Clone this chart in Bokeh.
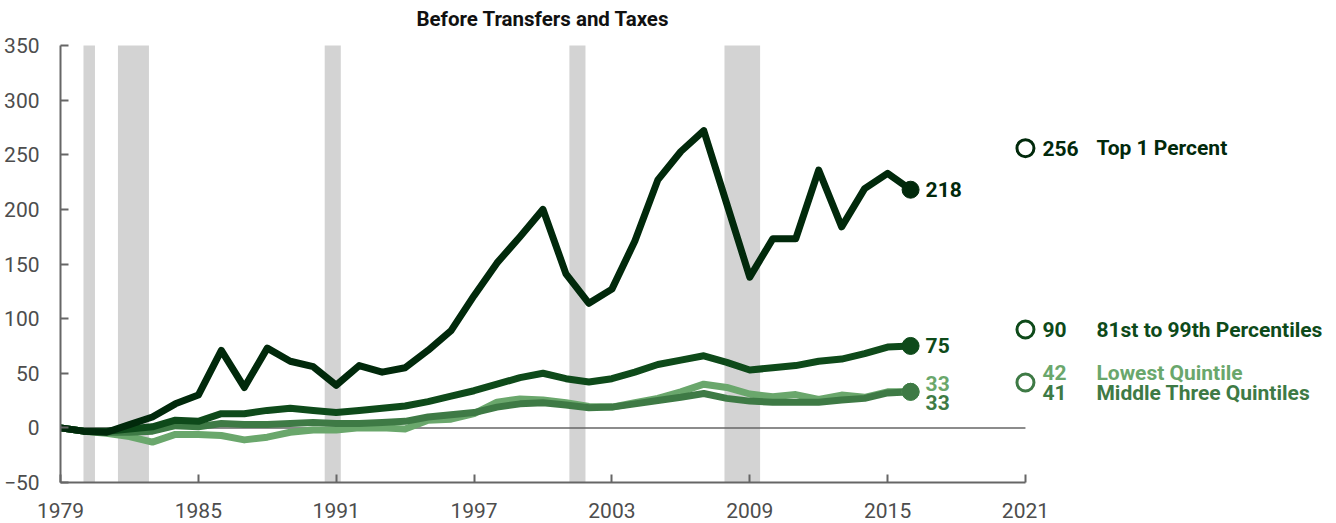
from bokeh.plotting import figure
from bokeh.models import Range1d, FixedTicker
from bokeh.core.properties import value
from bokeh.embed import file_html
from bokeh.resources import INLINE

years = list(range(1979, 2017))

top1 = [0, -3, -4, 3, 10, 22, 30, 71, 37, 73, 61, 56, 39, 57, 51, 55, 71, 89,
        121, 151, 175, 200, 141, 114, 127, 171, 227, 253, 272, 205, 138, 173,
        173, 236, 184, 219, 233, 218]
p81_99 = [0, -3, -3, -1, 1, 7, 6, 13, 13, 16, 18, 16, 14, 16, 18, 20, 24, 29,
          34, 40, 46, 50, 45, 42, 45, 51, 58, 62, 66, 60, 53, 55,
          57, 61, 63, 68, 74, 75]
middle3 = [0, -3, -4, -4, -3, 2, 1, 4, 3, 3, 4, 5, 4, 4, 5, 6, 10, 12,
           14, 19, 22, 23, 21, 18.5, 19, 22, 25, 28, 31.5, 27, 24.5, 23.5,
           23.5, 23.5, 25.5, 27, 32, 33]
lowest = [0, -3, -5, -8, -13, -6, -6, -7, -11, -8.5, -4, -2, -2, 0, 0, -1, 7, 8,
          13, 23.5, 26.5, 25.5, 23, 19.5, 19, 23, 27, 33, 40, 37, 31, 28.5,
          30.5, 26, 30, 28, 33, 33]

recession_start = [1980.0, 1981.5, 1990.5, 2001.15, 2007.9]
recession_end = [1980.5, 1982.85, 1991.2, 2001.85, 2009.45]

chart_title = "Before Transfers and Taxes"
series_names = ["Top 1 Percent", "81st to 99th Percentiles", "Lowest Quintile", "Middle Three Quintiles"]
end_values = ["218", "75", "33", "33"]
legend_values = ["256", "90", "42", "41"]
legend_positions = [256, 90, 41.5, 41.5]
x_ticks = [1979, 1985, 1991, 1997, 2003, 2009, 2015, 2021]
y_ticks = [-50, 0, 50, 100, 150, 200, 250, 300, 350]

C_TOP = "#01290b"
C_81 = "#0e4a1a"
C_MID = "#3e7a45"
C_LOW = "#6aa76c"
GRAY = "#666666"
FONT = "Roboto"

Y_MIN, Y_MAX = -50, 350
PX_PER_UNIT = 437 / (Y_MAX - Y_MIN)
y_top = Y_MAX + 45 / PX_PER_UNIT   # headroom above the axis for the title

p = figure(width=1336, height=523, x_range=Range1d(1979, 2034.19), y_range=Range1d(Y_MIN, y_top),
           output_backend="svg", toolbar_location=None,
           min_border_left=60, min_border_right=8, min_border_top=0, min_border_bottom=41)
p.grid.visible = False
p.outline_line_color = None
p.background_fill_color = "white"
p.border_fill_color = "white"

for ax, ticks, bounds in ((p.xaxis, x_ticks, (1979, 2021)), (p.yaxis, y_ticks, (Y_MIN, Y_MAX))):
    ax.ticker = FixedTicker(ticks=ticks)
    ax.bounds = bounds
    ax.axis_line_color = GRAY
    ax.axis_line_width = 2
    ax.major_tick_line_color = GRAY
    ax.major_tick_line_width = 2
    ax.major_tick_in = 8
    ax.major_tick_out = 0
    ax.minor_tick_line_color = None
    ax.major_label_text_font = FONT
    ax.major_label_text_font_size = "21px"
    ax.major_label_text_color = "#4d4d4d"
p.xaxis.major_label_standoff = 20
p.yaxis.major_label_standoff = 21

# recessions
p.quad(left=recession_start, right=recession_end, bottom=Y_MIN, top=Y_MAX,
       fill_color="#d3d3d3", line_color=None)

# zero line
p.segment(x0=[1979], y0=[0], x1=[2021], y1=[0], line_color=GRAY, line_width=1.5)

for vals, col in ((lowest, C_LOW), (middle3, C_MID), (p81_99, C_81), (top1, C_TOP)):
    p.line(years, vals, line_color=col, line_width=7, line_join="round", line_cap="round")

last = years[-1]
p.scatter([last], [lowest[-1]], size=17, color=C_LOW)
p.scatter([last], [middle3[-1]], size=17, color=C_MID)
p.scatter([last], [p81_99[-1]], size=17, color=C_81)
p.scatter([last], [top1[-1]], size=17, color=C_TOP)

bold = dict(text_font=value(FONT), text_font_style="bold", text_font_size="21px",
            text_baseline="middle", text_align="left")

end_y = [top1[-1], p81_99[-1], lowest[-1], middle3[-1]]
end_cols = [C_TOP, C_81, C_LOW, C_MID]
end_off = [0, 0, -8, 11]
for v, y, c, o in zip(end_values, end_y, end_cols, end_off):
    p.text(x=[last], y=[y], text=[v], x_offset=15, y_offset=o, text_color=c, **bold)

# legend column at 2021
circ_cols = [C_TOP, C_81, C_MID]
circ_y = [legend_positions[0], legend_positions[1], legend_positions[2]]
p.scatter([2021] * 3, circ_y, size=17, fill_color="white", line_color=circ_cols, line_width=3)

leg_cols = [C_TOP, C_81, C_LOW, C_MID]
leg_off = [0, 0, -10, 10]
for v, name, y, c, o in zip(legend_values, series_names, legend_positions, leg_cols, leg_off):
    p.text(x=[2021], y=[y], text=[v], x_offset=17, y_offset=o, text_color=c, **bold)
    p.text(x=[2021], y=[y], text=[name], x_offset=71, y_offset=o, text_color=c, **bold)

# title, centred over the axis span
p.text(x=[(x_ticks[0] + x_ticks[-1]) / 2], y=[y_top], text=[chart_title], y_offset=18,
       text_font=value(FONT), text_font_style="bold", text_font_size="20.5px",
       text_color="#111111", text_align="center", text_baseline="middle")

open("out.html", "w").write(file_html(p, INLINE))
